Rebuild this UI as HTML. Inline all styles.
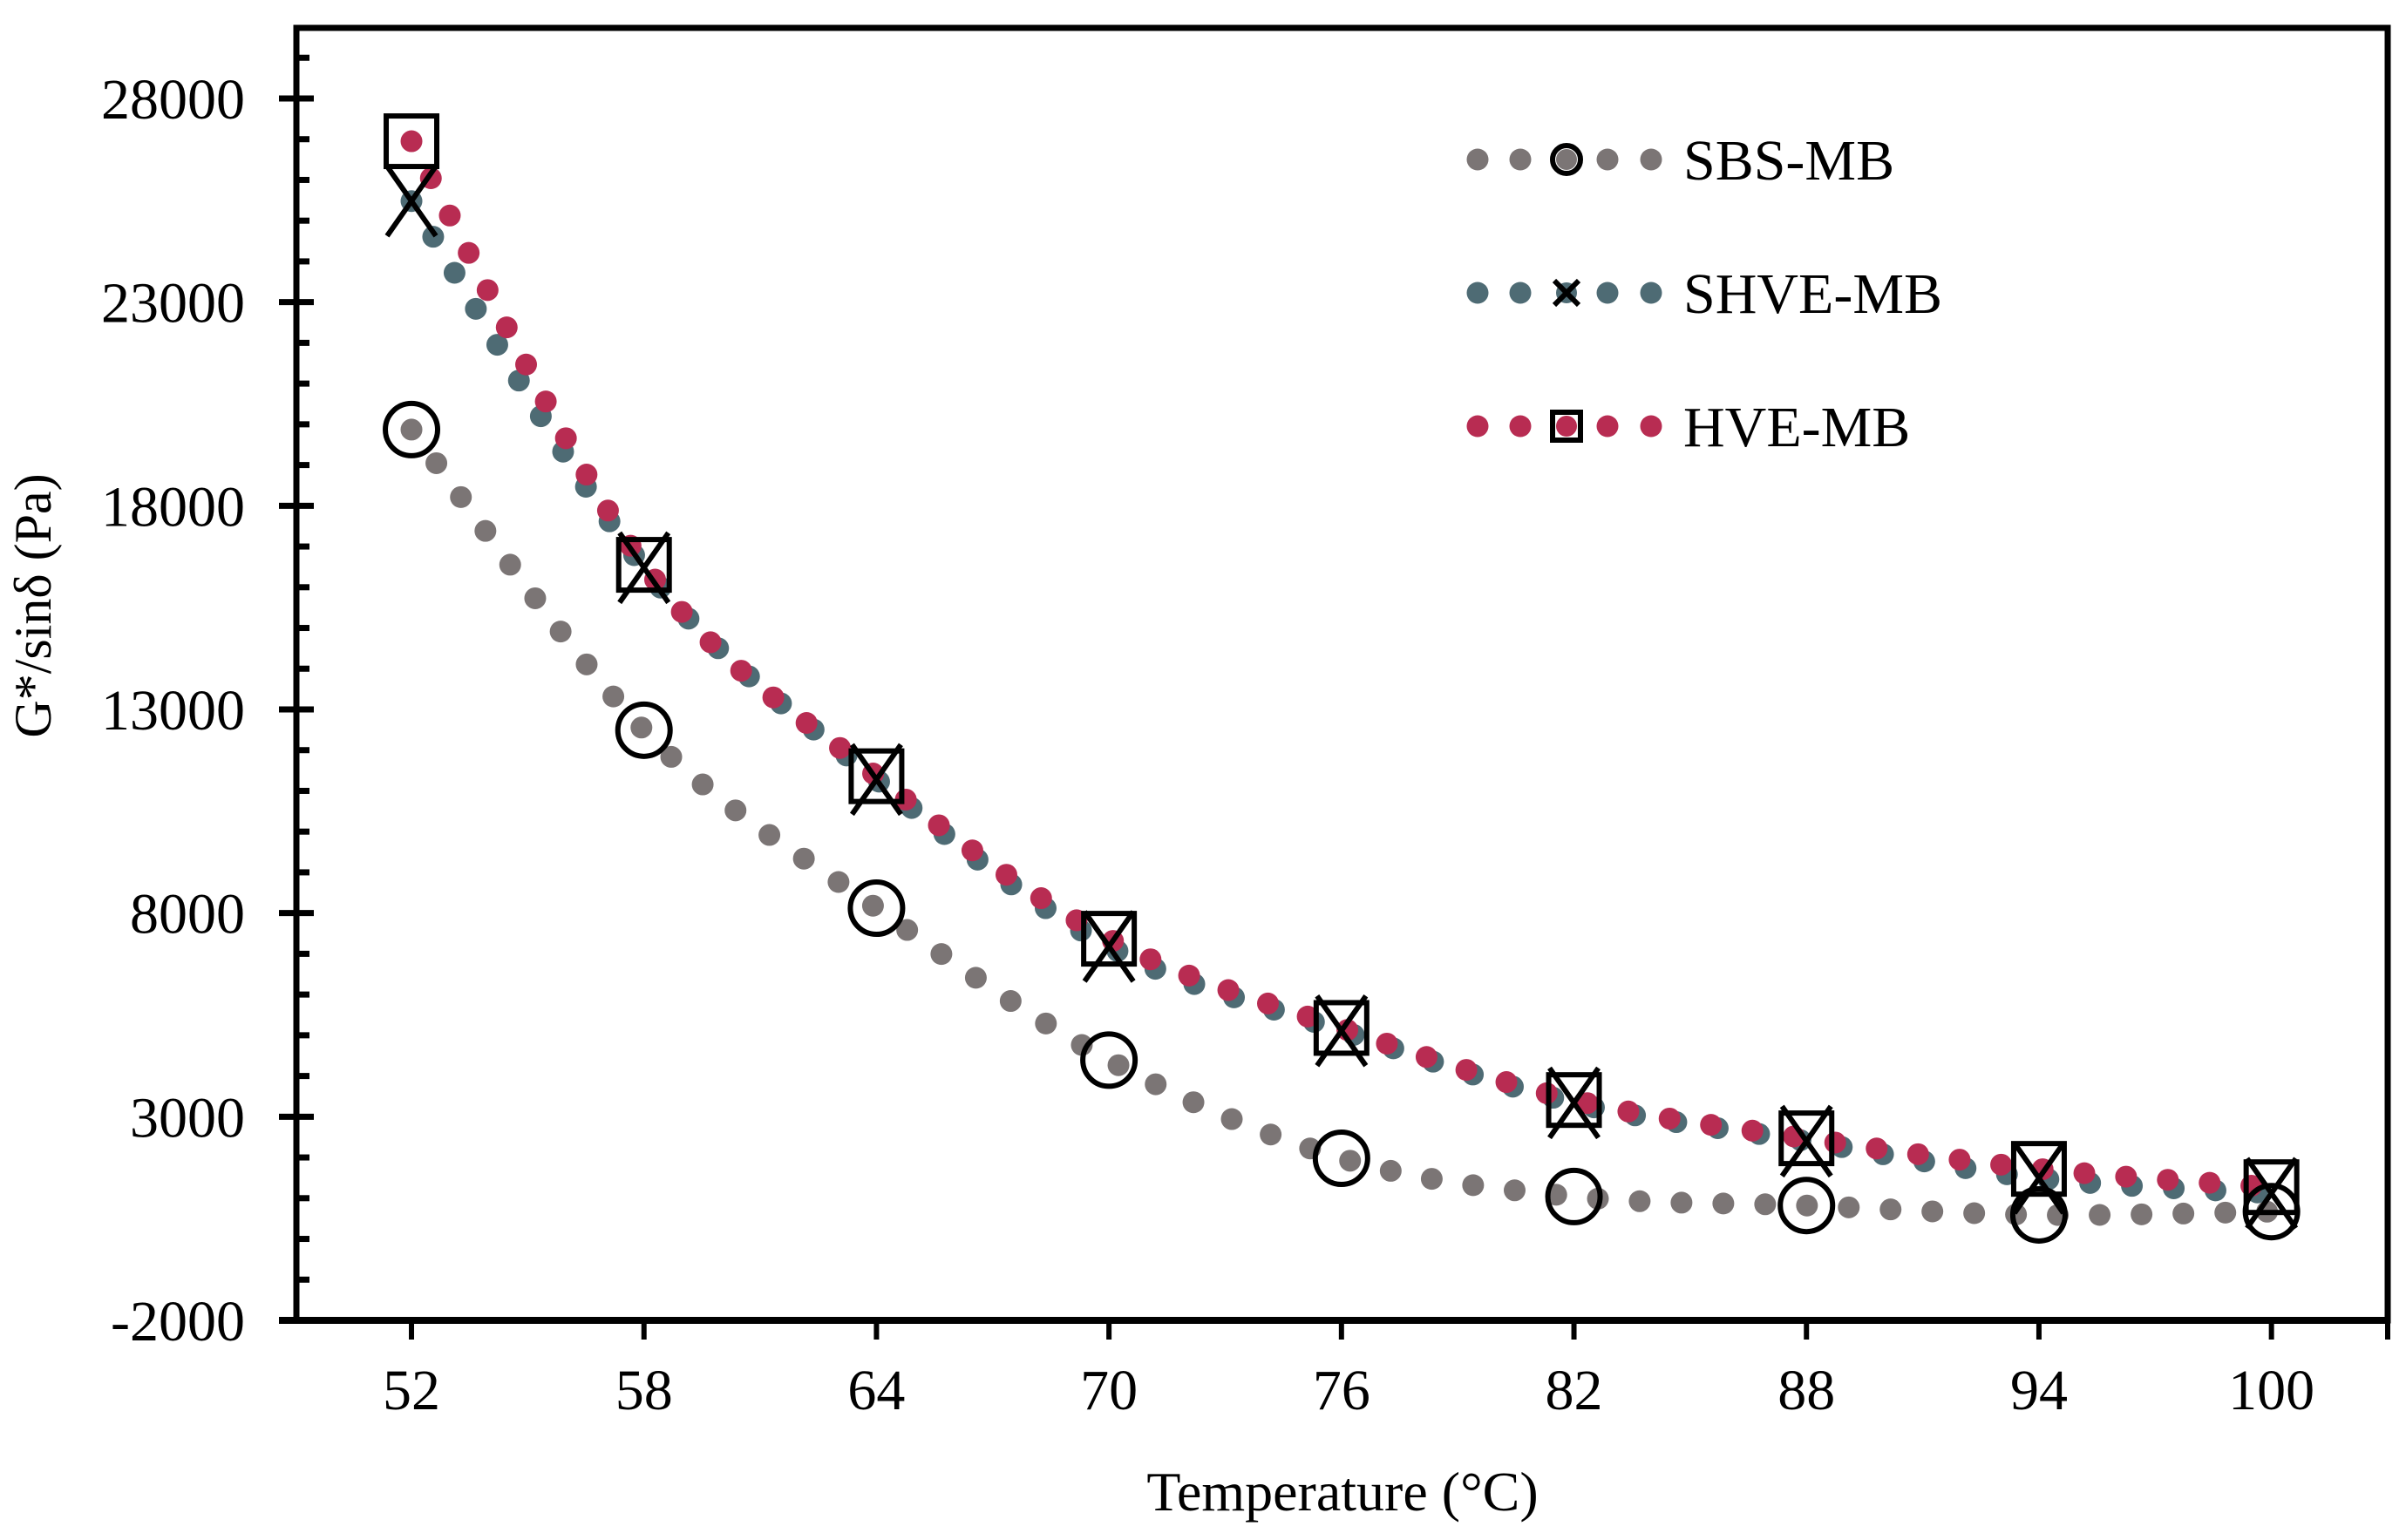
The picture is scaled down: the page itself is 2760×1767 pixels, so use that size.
<!DOCTYPE html>
<html><head><meta charset="utf-8"><style>
html,body{margin:0;padding:0;background:#fff;}
svg{display:block;font-family:"Liberation Serif","Times New Roman",serif;}
</style></head><body>
<svg id="chart" width="2760" height="1767" viewBox="0 0 2760 1767" xmlns="http://www.w3.org/2000/svg">
<rect x="0" y="0" width="2760" height="1767" fill="#fff"/>
<g id="plot"></g>
<g id="axes"></g>
<g id="legend"></g>
<text x="1540" y="1733" font-size="64" text-anchor="middle">Temperature (°C)</text>
<text transform="translate(58,695) rotate(-90)" font-size="60" text-anchor="middle">G*/sinδ (Pa)</text>
</svg>
<script>
const categories = [52, 58, 64, 70, 76, 82, 88, 94, 100];
const sbsValues = [19870, 12490, 8120, 4390, 1980, 1040, 820, 590, 670];
const shveValues = [25480, 16480, 11280, 7180, 5110, 3340, 2400, 1490, 1120];
const hveValues = [26950, 16550, 11360, 7370, 5180, 3410, 2470, 1720, 1270];
const yTickLabels = ["-2000", "3000", "8000", "13000", "18000", "23000", "28000"];
const seriesNames = ["SBS-MB", "SHVE-MB", "HVE-MB"];

const NS = "http://www.w3.org/2000/svg";
const L = 340, R = 2739, T = 32, B = 1515;
const xMin = 49.03, xMax = 103.0, yMin = -2000, yMax = 29733;
function xs(v){ return L + (v - xMin) / (xMax - xMin) * (R - L); }
function ys(v){ return B - (v - yMin) / (yMax - yMin) * (B - T); }
function mk(tag, attrs, parent){ const e = document.createElementNS(NS, tag); for (const k in attrs) e.setAttribute(k, attrs[k]); parent.appendChild(e); return e; }

const plot = document.getElementById('plot');
const axes = document.getElementById('axes');
const legend = document.getElementById('legend');

function smoothPath(pts){
  let d = "M" + pts[0][0] + "," + pts[0][1];
  for (let i = 0; i < pts.length - 1; i++) {
    const p0 = pts[Math.max(0, i - 1)], p1 = pts[i], p2 = pts[i + 1], p3 = pts[Math.min(pts.length - 1, i + 2)];
    const c1x = p1[0] + (p2[0] - p0[0]) / 6, c1y = p1[1] + (p2[1] - p0[1]) / 6;
    const c2x = p2[0] - (p3[0] - p1[0]) / 6, c2y = p2[1] - (p3[1] - p1[1]) / 6;
    d += " C" + c1x + "," + c1y + " " + c2x + "," + c2y + " " + p2[0] + "," + p2[1];
  }
  return d;
}

const series = [
  {vals: sbsValues, color: "#7b7575", marker: "circle", name: "sbs"},
  {vals: shveValues, color: "#4e6b74", marker: "x", name: "shve"},
  {vals: hveValues, color: "#b82c52", marker: "square", name: "hve"}
];

function drawMarker(type, cx, cy, parent, nm){
  let e;
  if (type === "circle") {
    e = mk('circle', {cx: cx, cy: cy, r: 30, fill: "none", stroke: "#000", "stroke-width": 6}, parent);
  } else if (type === "x") {
    e = mk('path', {d: "M"+(cx-28)+","+(cy-40)+"L"+(cx+28)+","+(cy+40)+"M"+(cx-28)+","+(cy+40)+"L"+(cx+28)+","+(cy-40), fill: "none", stroke: "#000", "stroke-width": 6}, parent);
  } else {
    e = mk('rect', {x: cx-29, y: cy-29, width: 58, height: 58, fill: "none", stroke: "#000", "stroke-width": 6}, parent);
  }
  
  
}

series.forEach(s => {
  const pts = categories.map((c, i) => [xs(c), ys(s.vals[i])]);
  const p = mk('path', {d: smoothPath(pts), fill: "none", stroke: s.color, "stroke-width": 25, "stroke-linecap": "round", "stroke-dasharray": "0 48"}, plot);
  
  
});
series.forEach(s => {
  categories.forEach((c, i) => {
    drawMarker(s.marker, xs(c), ys(s.vals[i]), plot, s.name + '-marker-' + c);
  });
});

const frame = mk('rect', {x: L, y: T, width: R - L, height: B - T, fill: "none", stroke: "#000", "stroke-width": 7}, axes);


const xl = mk('line', {x1: L - 20, y1: B, x2: R, y2: B, stroke: "#000", "stroke-width": 8}, axes);


const rext = mk('line', {x1: R, y1: B, x2: R, y2: B + 22, stroke: "#000", "stroke-width": 6}, axes);



yTickLabels.forEach(lbl => {
  const v = parseFloat(lbl), y = ys(v);
  const t = mk('line', {x1: L - 20, y1: y, x2: L + 20, y2: y, stroke: "#000", "stroke-width": 7}, axes);
  
  
  const tx = mk('text', {x: 281, y: y + 23, "font-size": 66, "text-anchor": "end"}, axes);
  tx.textContent = lbl;
  
  
});
for (let v = -1000; v <= 29000; v += 1000) {
  if ((v + 2000) % 5000 === 0) continue;
  const y = ys(v);
  const t = mk('line', {x1: L, y1: y, x2: L + 15, y2: y, stroke: "#000", "stroke-width": 7}, axes);
  
  
}
categories.forEach(c => {
  const x = xs(c);
  const t = mk('line', {x1: x, y1: B, x2: x, y2: B + 22, stroke: "#000", "stroke-width": 6}, axes);
  
  
  const tx = mk('text', {x: x, y: 1617, "font-size": 66, "text-anchor": "middle"}, axes);
  tx.textContent = String(c);
  
  
});

const legY = [183, 336, 489];
series.forEach((s, i) => {
  const g = mk('g', {}, legend);
  
  
  [1695, 1744, 1844, 1894].forEach(x => {
    const d = mk('circle', {cx: x, cy: legY[i], r: 12.5, fill: s.color}, g);
    
    
  });
  mk('circle', {cx: 1797, cy: legY[i], r: 12, fill: s.color}, g);
  if (s.marker === "circle") {
    const e = mk('circle', {cx: 1797, cy: legY[i], r: 16, fill: "none", stroke: "#000", "stroke-width": 6}, g);
    
    
  } else if (s.marker === "x") {
    const e = mk('path', {d: "M1783,"+(legY[i]-14)+"L1811,"+(legY[i]+14)+"M1783,"+(legY[i]+14)+"L1811,"+(legY[i]-14), stroke: "#000", "stroke-width": 6}, g);
    
    
  } else {
    const e = mk('rect', {x: 1781, y: legY[i] - 16, width: 32, height: 32, fill: "none", stroke: "#000", "stroke-width": 6}, g);
    
    
  }
  const tx = mk('text', {x: 1931, y: legY[i] + 23, "font-size": 66}, g);
  tx.textContent = seriesNames[i];
  
  
});
</script>
</body></html>
